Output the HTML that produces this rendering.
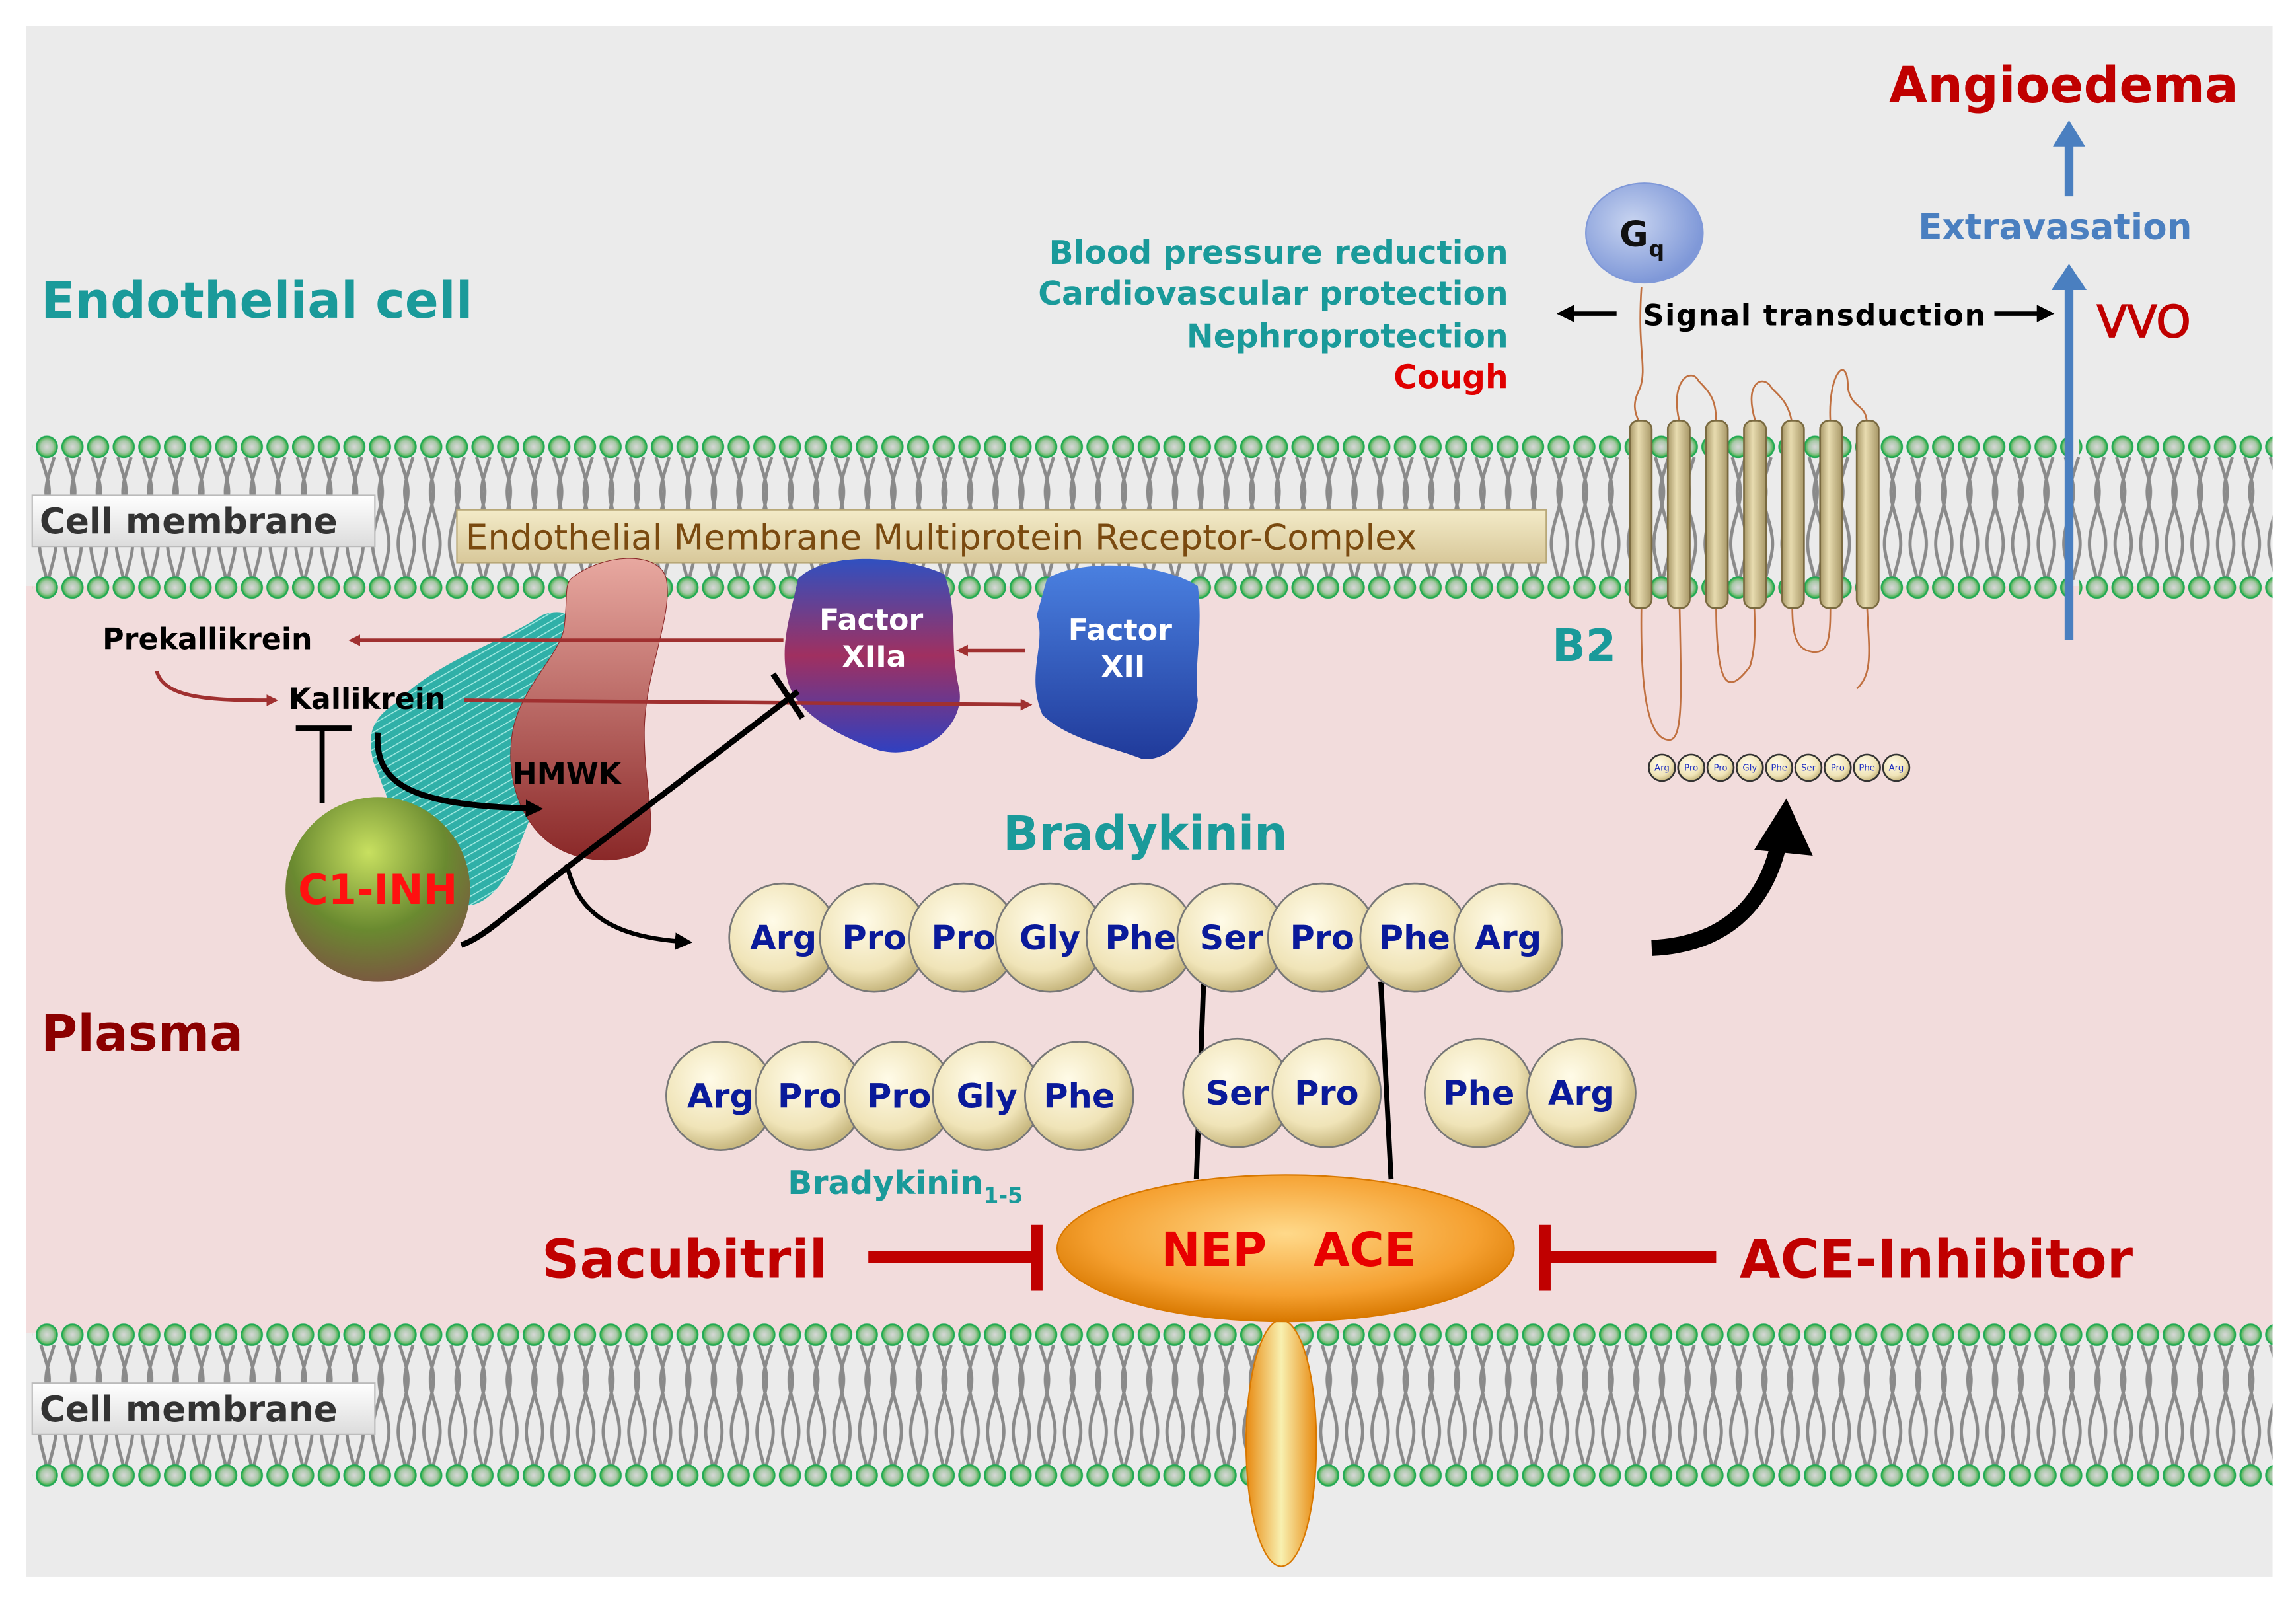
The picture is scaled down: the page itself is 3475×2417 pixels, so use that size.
<!DOCTYPE html>
<html><head><meta charset="utf-8"><style>html,body{margin:0;padding:0;background:#fff}svg{display:block}</style></head>
<body>
<svg width="3475" height="2417" viewBox="0 0 1568 1090" preserveAspectRatio="none" xmlns="http://www.w3.org/2000/svg" font-family="'DejaVu Sans','Liberation Sans',sans-serif" font-weight="bold">
<defs>
<radialGradient id="hd" cx="0.5" cy="0.5" r="0.5"><stop offset="0" stop-color="#d8d8d8"/><stop offset="0.6" stop-color="#a8c8a8"/><stop offset="1" stop-color="#3bb040"/></radialGradient>
<pattern id="heads" x="24" y="0" width="17.5" height="20" patternUnits="userSpaceOnUse"><circle cx="8" cy="10" r="7" fill="url(#hd)" stroke="#22aa55" stroke-width="1.2"/></pattern>
<pattern id="tails" x="24" y="0" width="17.5" height="84" patternUnits="userSpaceOnUse"><path d="M4 0 C10 20 12 22 6 42 C0 62 4 66 8 84 M13 0 C7 20 5 22 11 42 C17 62 13 66 9 84" stroke="#8a8a8a" stroke-width="2.2" fill="none"/></pattern>
<linearGradient id="lbl" x1="0" y1="0" x2="0" y2="1"><stop offset="0" stop-color="#ffffff"/><stop offset="1" stop-color="#dcdcdc"/></linearGradient>
<linearGradient id="beige" x1="0" y1="0" x2="0" y2="1"><stop offset="0" stop-color="#f3ebc8"/><stop offset="1" stop-color="#d8c89a"/></linearGradient>
<radialGradient id="ball" cx="0.4" cy="0.35" r="0.65"><stop offset="0" stop-color="#fffbe8"/><stop offset="0.7" stop-color="#f0e4b8"/><stop offset="1" stop-color="#c8b880"/></radialGradient>
<radialGradient id="gq" cx="0.4" cy="0.4" r="0.6"><stop offset="0" stop-color="#c8d4f0"/><stop offset="1" stop-color="#7f98d8"/></radialGradient>
<radialGradient id="org" cx="0.5" cy="0.4" r="0.6"><stop offset="0" stop-color="#ffd98a"/><stop offset="0.7" stop-color="#f5a030"/><stop offset="1" stop-color="#d87800"/></radialGradient>
<linearGradient id="stalk" x1="0" y1="0" x2="1" y2="0"><stop offset="0" stop-color="#e88a10"/><stop offset="0.5" stop-color="#f8f0b0"/><stop offset="1" stop-color="#e88a10"/></linearGradient>
<radialGradient id="c1" cx="0.45" cy="0.3" r="0.7"><stop offset="0" stop-color="#c8e060"/><stop offset="0.6" stop-color="#6a8a30"/><stop offset="1" stop-color="#7a5a40"/></radialGradient>
<linearGradient id="f12a" x1="0" y1="0" x2="0" y2="1"><stop offset="0" stop-color="#3050c0"/><stop offset="0.5" stop-color="#a03060"/><stop offset="1" stop-color="#3040c0"/></linearGradient>
<linearGradient id="f12" x1="0" y1="0" x2="0" y2="1"><stop offset="0" stop-color="#4a80e0"/><stop offset="1" stop-color="#203a9a"/></linearGradient>
<linearGradient id="hm" x1="0" y1="0" x2="0" y2="1"><stop offset="0" stop-color="#e8a8a0"/><stop offset="1" stop-color="#8a2828"/></linearGradient>
<pattern id="hatch" width="5" height="5" patternUnits="userSpaceOnUse" patternTransform="rotate(60)"><rect width="5" height="5" fill="#30b0a8"/><line x1="0" y1="0" x2="0" y2="5" stroke="#a0e8e0" stroke-width="1.5"/></pattern>
<linearGradient id="cyl" x1="0" y1="0" x2="1" y2="0"><stop offset="0" stop-color="#a89868"/><stop offset="0.4" stop-color="#e8dcb0"/><stop offset="1" stop-color="#a89868"/></linearGradient>
<marker id="ar" markerWidth="8" markerHeight="8" refX="6" refY="4" orient="auto" markerUnits="userSpaceOnUse"><path d="M0 0 L8 4 L0 8 Z" fill="#a03030"/></marker>
<marker id="ak" markerWidth="12" markerHeight="12" refX="9" refY="6" orient="auto" markerUnits="userSpaceOnUse"><path d="M0 0 L12 6 L0 12 Z" fill="#000"/></marker>
</defs>
<rect width="1568" height="1090" fill="#fff"/>
<rect x="18" y="18" width="1534" height="1058" fill="#ebebeb"/>
<rect x="18" y="400" width="1534" height="510" fill="#f2dcdc"/>
<!-- membranes -->
<g transform="translate(0,312)"><rect x="22" y="0" width="1530" height="84" fill="url(#tails)"/></g>
<g transform="translate(0,295)"><rect x="22" y="0" width="1390" height="20" fill="url(#heads)"/><rect x="1420" y="0" width="132" height="20" fill="url(#heads)"/></g>
<g transform="translate(0,391)"><rect x="22" y="0" width="1390" height="20" fill="url(#heads)"/><rect x="1420" y="0" width="132" height="20" fill="url(#heads)"/></g>
<g transform="translate(0,918)"><rect x="22" y="0" width="1530" height="84" fill="url(#tails)"/></g>
<g transform="translate(0,901)"><rect x="22" y="0" width="1530" height="20" fill="url(#heads)"/></g>
<g transform="translate(0,997)"><rect x="22" y="0" width="1530" height="20" fill="url(#heads)"/></g>
<rect x="22" y="338" width="234" height="35" fill="url(#lbl)" stroke="#bbb"/>
<text x="27" y="364" font-size="24" fill="#333">Cell membrane</text>
<rect x="22" y="944" width="234" height="35" fill="url(#lbl)" stroke="#bbb"/>
<text x="27" y="970" font-size="24" fill="#333">Cell membrane</text>
<rect x="312" y="348" width="744" height="36" fill="url(#beige)" stroke="#b8a878"/>
<text x="318" y="375" font-size="24" font-weight="normal" fill="#7a4a10">Endothelial  Membrane Multiprotein Receptor-Complex</text>
<!-- titles -->
<text x="28" y="217" font-size="34" fill="#1a9a9a">Endothelial cell</text>
<text x="28" y="717" font-size="34" fill="#8b0000">Plasma</text>
<g font-size="22" text-anchor="end"><text x="1030" y="180" fill="#1a9a9a">Blood pressure reduction</text><text x="1030" y="208" fill="#1a9a9a">Cardiovascular protection</text><text x="1030" y="237" fill="#1a9a9a">Nephroprotection</text><text x="1030" y="265" fill="#e00000">Cough</text></g>
<!-- right -->
<text x="1290" y="70" font-size="34" fill="#c00000">Angioedema</text>
<text x="1310" y="163" font-size="24" fill="#4a7fc0">Extravasation</text>
<text x="1432" y="230" font-size="30" font-weight="normal" fill="#c00000" stroke="#c00000" stroke-width="0.8">VVO</text>
<line x1="1413" y1="134" x2="1413" y2="98" stroke="#4a7fc0" stroke-width="6"/><path d="M1402 100 L1413 82 L1424 100Z" fill="#4a7fc0"/>
<line x1="1413" y1="437" x2="1413" y2="196" stroke="#4a7fc0" stroke-width="6"/><path d="M1401 198 L1413 180 L1425 198Z" fill="#4a7fc0"/>
<ellipse cx="1123" cy="159" rx="40" ry="34" fill="url(#gq)" stroke="#7f98d8"/>
<text x="1106" y="168" font-size="24" fill="#111">G</text><text x="1126" y="175" font-size="15" fill="#111">q</text>
<text x="1122" y="222" font-size="20" fill="#000" textLength="234">Signal transduction</text>
<line x1="1104" y1="214" x2="1066" y2="214" stroke="#000" stroke-width="3" marker-end="url(#ak)"/>
<line x1="1362" y1="214" x2="1400" y2="214" stroke="#000" stroke-width="3" marker-end="url(#ak)"/>
<g fill="none" stroke="#c07040" stroke-width="1.2">
<path d="M1121 196 C1118 240 1125 250 1120 265 C1112 280 1120 285 1120 292"/>
<path d="M1147 288 C1140 260 1155 250 1160 260 C1170 270 1172 275 1172 290"/>
<path d="M1199 288 C1190 260 1205 255 1210 265 C1215 270 1222 275 1224 290"/>
<path d="M1250 288 C1248 255 1262 240 1262 265 C1265 280 1275 275 1275 290"/>
<path d="M1121 412 C1120 470 1125 505 1140 505 C1150 505 1148 470 1147 412"/>
<path d="M1172 412 C1172 470 1180 475 1195 455 C1200 440 1198 420 1198 412"/>
<path d="M1224 412 C1224 430 1225 445 1240 445 C1250 445 1250 430 1250 412"/>
<path d="M1275 412 C1276 440 1280 460 1268 470"/>
</g>
<g fill="url(#cyl)" stroke="#7a6a40" stroke-width="1.2">
<rect x="1113" y="287" width="15" height="128" rx="6"/><rect x="1139" y="287" width="15" height="128" rx="6"/><rect x="1165" y="287" width="15" height="128" rx="6"/><rect x="1191" y="287" width="15" height="128" rx="6"/><rect x="1217" y="287" width="15" height="128" rx="6"/><rect x="1243" y="287" width="15" height="128" rx="6"/><rect x="1268" y="287" width="15" height="128" rx="6"/>
</g>
<text x="1060" y="451" font-size="30" fill="#1a9a9a">B2</text>
<g stroke="#333" stroke-width="1.2" fill="url(#ball)">
<circle cx="1135" cy="524" r="9"/><circle cx="1155" cy="524" r="9"/><circle cx="1175" cy="524" r="9"/><circle cx="1195" cy="524" r="9"/><circle cx="1215" cy="524" r="9"/><circle cx="1235" cy="524" r="9"/><circle cx="1255" cy="524" r="9"/><circle cx="1275" cy="524" r="9"/><circle cx="1295" cy="524" r="9"/>
</g>
<g font-size="6" fill="#2030c0" text-anchor="middle" font-weight="normal"><text x="1135" y="526">Arg</text><text x="1155" y="526">Pro</text><text x="1175" y="526">Pro</text><text x="1195" y="526">Gly</text><text x="1215" y="526">Phe</text><text x="1235" y="526">Ser</text><text x="1255" y="526">Pro</text><text x="1275" y="526">Phe</text><text x="1295" y="526">Arg</text></g>
<path d="M1128 647 C1175 645 1205 620 1215 575" stroke="#000" stroke-width="11" fill="none"/>
<path d="M1198 580 L1220 545 L1238 584Z" fill="#000"/>
<!-- bradykinin -->
<text x="685" y="580" font-size="32" fill="#1a9a9a">Bradykinin</text>
<line x1="822" y1="670" x2="817" y2="805" stroke="#000" stroke-width="3.5"/>
<line x1="943" y1="670" x2="950" y2="805" stroke="#000" stroke-width="3.5"/>
<g stroke="#777" stroke-width="1.2" fill="url(#ball)">
<circle cx="535" cy="640" r="37"/><circle cx="597" cy="640" r="37"/><circle cx="658" cy="640" r="37"/><circle cx="717" cy="640" r="37"/><circle cx="779" cy="640" r="37"/><circle cx="841" cy="640" r="37"/><circle cx="903" cy="640" r="37"/><circle cx="966" cy="640" r="37"/><circle cx="1030" cy="640" r="37"/>
<circle cx="492" cy="748" r="37"/><circle cx="553" cy="748" r="37"/><circle cx="614" cy="748" r="37"/><circle cx="674" cy="748" r="37"/><circle cx="737" cy="748" r="37"/>
<circle cx="845" cy="746" r="37"/><circle cx="906" cy="746" r="37"/><circle cx="1010" cy="746" r="37"/><circle cx="1080" cy="746" r="37"/>
</g>
<g font-size="23" fill="#0a1a9a" text-anchor="middle">
<text x="535" y="648">Arg</text><text x="597" y="648">Pro</text><text x="658" y="648">Pro</text><text x="717" y="648">Gly</text><text x="779" y="648">Phe</text><text x="841" y="648">Ser</text><text x="903" y="648">Pro</text><text x="966" y="648">Phe</text><text x="1030" y="648">Arg</text>
<text x="492" y="756">Arg</text><text x="553" y="756">Pro</text><text x="614" y="756">Pro</text><text x="674" y="756">Gly</text><text x="737" y="756">Phe</text>
<text x="845" y="754">Ser</text><text x="906" y="754">Pro</text><text x="1010" y="754">Phe</text><text x="1080" y="754">Arg</text>
</g>
<text x="538" y="815" font-size="22" fill="#1a9a9a">Bradykinin<tspan font-size="15" dy="6">1-5</tspan></text>
<!-- NEP ACE -->
<ellipse cx="875" cy="985" rx="24" ry="84" fill="url(#stalk)" stroke="#d87800"/>
<ellipse cx="878" cy="852" rx="156" ry="50" fill="url(#org)" stroke="#d87800"/>
<text x="793" y="864" font-size="32" fill="#e80000">NEP</text><text x="897" y="864" font-size="32" fill="#e80000">ACE</text>
<text x="370" y="872" font-size="36" fill="#c00000">Sacubitril</text>
<line x1="593" y1="858" x2="708" y2="858" stroke="#c00000" stroke-width="8"/><line x1="708" y1="836" x2="708" y2="881" stroke="#c00000" stroke-width="8"/>
<text x="1188" y="872" font-size="36" fill="#c00000">ACE-Inhibitor</text>
<line x1="1055" y1="858" x2="1172" y2="858" stroke="#c00000" stroke-width="8"/><line x1="1055" y1="836" x2="1055" y2="881" stroke="#c00000" stroke-width="8"/>
<!-- left cluster -->
<path d="M270 480 C300 450 340 440 370 420 C395 410 405 435 395 470 C380 520 360 560 350 590 C335 620 315 625 300 610 C280 590 265 545 255 520 C250 500 255 490 270 480Z" fill="url(#hatch)"/>
<path d="M390 395 C410 378 450 375 455 395 C460 420 440 460 440 500 C440 540 450 565 440 580 C425 590 395 590 375 575 C355 560 345 530 350 500 C355 470 380 450 385 430 C388 410 385 400 390 395Z" fill="url(#hm)" stroke="#8a2828" stroke-width="0.5"/>
<path d="M545 395 C565 375 620 380 645 392 C655 420 648 440 655 470 C660 495 630 520 600 512 C580 505 545 490 538 465 C532 440 540 420 545 395Z" fill="url(#f12a)"/>
<path d="M715 395 C740 380 795 385 818 400 C822 430 815 455 818 478 C815 505 795 520 780 518 C760 510 730 505 712 488 C700 460 715 440 708 420 Z" fill="url(#f12)"/>
<text x="595" y="430" font-size="20" fill="#fff" text-anchor="middle">Factor</text><text x="597" y="455" font-size="20" fill="#fff" text-anchor="middle">XIIa</text>
<text x="765" y="437" font-size="20" fill="#fff" text-anchor="middle">Factor</text><text x="767" y="462" font-size="20" fill="#fff" text-anchor="middle">XII</text>
<line x1="535" y1="437" x2="240" y2="437" stroke="#a03030" stroke-width="2.5" marker-end="url(#ar)"/>
<line x1="700" y1="444" x2="655" y2="444" stroke="#a03030" stroke-width="2.5" marker-end="url(#ar)"/>
<line x1="317" y1="478" x2="703" y2="481" stroke="#a03030" stroke-width="2.5" marker-end="url(#ar)"/>
<path d="M107 458 C112 478 150 478 188 478" stroke="#a03030" stroke-width="2.5" fill="none" marker-end="url(#ar)"/>
<line x1="220" y1="548" x2="220" y2="497" stroke="#000" stroke-width="3.5"/><line x1="202" y1="497" x2="240" y2="497" stroke="#000" stroke-width="3.5"/>
<path d="M258 500 C255 540 290 550 368 552" stroke="#000" stroke-width="4" fill="none" marker-end="url(#ak)"/>
<path d="M315 645 C330 640 345 625 390 590 L545 472" stroke="#000" stroke-width="4" fill="none"/>
<line x1="528" y1="460" x2="548" y2="490" stroke="#000" stroke-width="4"/>
<path d="M387 590 C395 625 420 640 470 643" stroke="#000" stroke-width="3" fill="none" marker-end="url(#ak)"/>
<circle cx="258" cy="607" r="63" fill="url(#c1)"/>
<text x="258" y="617" font-size="28" fill="#ff1010" text-anchor="middle">C1-INH</text>
<text x="70" y="443" font-size="20" fill="#000">Prekallikrein</text>
<text x="197" y="484" font-size="20" fill="#000">Kallikrein</text>
<text x="350" y="535" font-size="20" fill="#000">HMWK</text>
</svg>
</body></html>
